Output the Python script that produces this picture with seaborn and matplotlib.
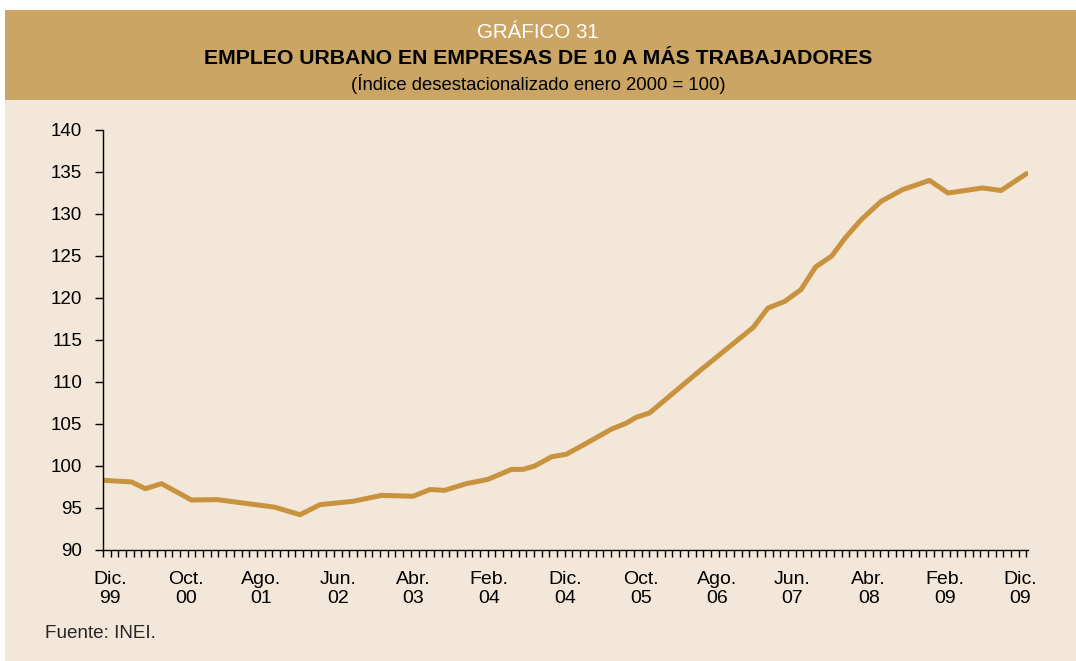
import numpy as np
import pandas as pd
import matplotlib
matplotlib.use("Agg")
import matplotlib.pyplot as plt
from matplotlib.patches import Rectangle
import seaborn as sns

# Months counted from Dic. 99 (0) to Dic. 09 (120)
months = [0, 3.7, 5.5, 7.6, 11.5, 14.8, 22.3, 25.6, 28.2, 32.5, 36.2, 40.3,
          42.5, 44.4, 47.2, 50.0, 53.1, 54.6, 56.1, 58.3, 60.2, 62.8, 66.1,
          68.0, 69.3, 71.0, 77.5, 84.5, 86.4, 88.6, 90.7, 92.6, 94.7, 96.4,
          98.5, 101.1, 103.9, 107.4, 109.8, 114.3, 116.7, 120.0]
indice = [98.3, 98.1, 97.3, 97.9, 95.95, 96.0, 95.1, 94.2, 95.4, 95.8, 96.5, 96.4,
          97.2, 97.1, 97.9, 98.4, 99.6, 99.6, 100.0, 101.1, 101.4, 102.7, 104.4,
          105.1, 105.8, 106.3, 111.3, 116.5, 118.8, 119.6, 121.0, 123.7, 125.0, 127.1,
          129.3, 131.5, 132.9, 134.0, 132.5, 133.1, 132.8, 134.8]

# label positions sit a little inside the axis ends in the original
label_months = [0.9, 10.75, 20.6, 30.5, 40.3, 50.2, 60.1, 69.9, 79.8, 89.6, 99.5, 109.4, 119.2]
tick_labels = ["Dic.\n99", "Oct.\n00", "Ago.\n01", "Jun.\n02", "Abr.\n03", "Feb.\n04",
               "Dic.\n04", "Oct.\n05", "Ago.\n06", "Jun.\n07", "Abr.\n08", "Feb.\n09",
               "Dic.\n09"]
y_ticks = [90, 95, 100, 105, 110, 115, 120, 125, 130, 135, 140]

df = pd.DataFrame({"mes": months, "indice": indice})

BG = "#F2E7D8"
BAND = "#CBA563"
LINE = "#C8923E"

sns.set_style("white")
plt.rcParams["font.family"] = ["Liberation Sans", "DejaVu Sans"]

fig = plt.figure(figsize=(10.76, 6.61), dpi=100)
fig.patch.set_facecolor("white")
W, H = 1076, 661

# beige panel and header band (behind the axes)
fig.patches.append(Rectangle((5 / W, 0), 1 - 5 / W, 1 - 100 / H, transform=fig.transFigure,
                             facecolor=BG, edgecolor="none", zorder=-2))
fig.patches.append(Rectangle((5 / W, 1 - 100 / H), 1 - 5 / W, 90 / H, transform=fig.transFigure,
                             facecolor=BAND, edgecolor="none", zorder=-2))

fig.text(0.5, 1 - 32 / H, "GRÁFICO 31", ha="center", va="center", color="white", fontsize=14.8)
fig.text(0.5, 1 - 59 / H, "EMPLEO URBANO EN EMPRESAS DE 10 A MÁS TRABAJADORES",
         ha="center", va="center", color="black", fontsize=15.3, fontweight="bold")
fig.text(0.5, 1 - 84 / H, "(Índice desestacionalizado enero 2000 = 100)",
         ha="center", va="center", color="black", fontsize=13.3)
fig.text(45 / W, 1 - 634 / H, "Fuente: INEI.", ha="left", va="center", fontsize=13.6)

ax = fig.add_axes([103 / W, 1 - 550 / H, (1028 - 103) / W, 420 / H])
ax.set_facecolor("none")
sns.lineplot(data=df, x="mes", y="indice", ax=ax, color=LINE, linewidth=3.6)

ax.set_xlim(0, 120.2)
ax.set_ylim(90, 140)
ax.set_xticks(label_months)
ax.set_xticklabels(tick_labels, linespacing=1.2)
ax.set_xticks(np.arange(0, 121, 1), minor=True)
ax.set_yticks(y_ticks)
ax.set_xlabel("")
ax.set_ylabel("")

for s in ["top", "right"]:
    ax.spines[s].set_visible(False)
for s in ["left", "bottom"]:
    ax.spines[s].set_color("black")
    ax.spines[s].set_linewidth(1.0)

ax.tick_params(axis="y", which="major", left=True, direction="out", length=6, width=1,
               pad=9, labelsize=13.5, colors="black")
ax.tick_params(axis="x", which="major", bottom=True, length=0, pad=15,
               labelsize=14, colors="black")
ax.tick_params(axis="x", which="minor", bottom=True, direction="out", length=5, width=1,
               colors="black")

plt.savefig("out.png", dpi=100, facecolor=fig.get_facecolor())
